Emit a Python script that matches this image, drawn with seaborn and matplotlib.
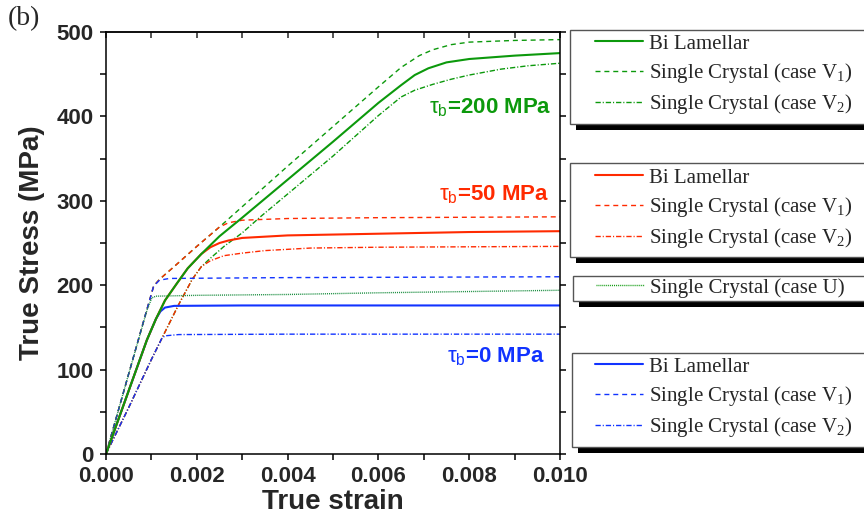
import matplotlib
matplotlib.use("Agg")
import matplotlib.pyplot as plt
import seaborn as sns
from matplotlib.lines import Line2D
from matplotlib.patches import Rectangle
from matplotlib.ticker import MultipleLocator, FormatStrFormatter

# ---- data (strain, stress in MPa) ----
# tau_b = 200 MPa (green)
g_bl_x = [0, 0.0005, 0.0009, 0.0011, 0.0013, 0.00156, 0.0018, 0.0021, 0.0025, 0.003, 0.004,
          0.005, 0.006, 0.0065, 0.0068, 0.0071, 0.0075, 0.008, 0.009, 0.010]
g_bl_y = [0, 75, 135, 160, 182, 202, 220, 237, 258, 280, 325,
          370, 416, 437, 449, 457, 464, 468, 472, 475]
g_v1_x = [0, 0.0005, 0.0009, 0.00105, 0.00118, 0.0015, 0.002, 0.0025, 0.003, 0.004, 0.005,
          0.006, 0.0065, 0.0069, 0.0072, 0.0076, 0.008, 0.009, 0.010]
g_v1_y = [0, 95, 171, 199, 207, 222, 246, 269, 293, 341, 388,
          435, 458, 472, 479, 485, 488, 490, 491]
g_v2_x = [0, 0.0005, 0.001, 0.00123, 0.0016, 0.0019, 0.0021, 0.0023, 0.0026, 0.003, 0.0034,
          0.005, 0.006, 0.0065, 0.0068, 0.0072, 0.0076, 0.008, 0.0087, 0.0093, 0.010]
g_v2_y = [0, 55, 112, 137, 177, 207, 222, 232, 246, 262, 281,
          353, 401, 423, 431, 438, 444, 449, 456, 460, 463]
g_u_x = [0, 0.0005, 0.0009, 0.00101, 0.0011, 0.002, 0.004, 0.006, 0.008, 0.010]
g_u_y = [0, 95, 170, 185, 187, 188, 189, 191, 192.5, 194]

# tau_b = 50 MPa (red)
r_bl_x = [0, 0.0005, 0.0009, 0.0011, 0.0013, 0.00156, 0.0018, 0.0021, 0.0023, 0.0025, 0.0027,
          0.003, 0.004, 0.006, 0.008, 0.010]
r_bl_y = [0, 75, 135, 160, 182, 202, 220, 237, 245, 250, 253,
          256, 259, 261, 263, 264]
r_v1_x = [0, 0.0005, 0.0009, 0.00105, 0.00118, 0.0015, 0.002, 0.0025, 0.0027, 0.003, 0.004,
          0.006, 0.010]
r_v1_y = [0, 95, 171, 199, 207, 222, 246, 269, 274, 277, 279,
          280, 281]
r_v2_x = [0, 0.0005, 0.001, 0.00123, 0.0016, 0.0019, 0.0021, 0.0023, 0.0026, 0.003, 0.0035,
          0.0045, 0.006, 0.010]
r_v2_y = [0, 55, 112, 137, 177, 207, 222, 229, 235, 238, 241,
          244, 245, 246]

# tau_b = 0 MPa (blue)
b_bl_x = [0, 0.0005, 0.0009, 0.0011, 0.0012, 0.0013, 0.0015, 0.003, 0.010]
b_bl_y = [0, 75, 135, 160, 169, 173.5, 175.5, 176, 176]
b_v1_x = [0, 0.0005, 0.0009, 0.00105, 0.00118, 0.0014, 0.004, 0.010]
b_v1_y = [0, 95, 171, 199, 206, 208, 209, 210]
b_v2_x = [0, 0.0005, 0.001, 0.00123, 0.0013, 0.0016, 0.004, 0.010]
b_v2_y = [0, 55, 112, 137, 140, 141.5, 142, 142]

GREEN = "#0c990c"
RED = "#ff2a00"
BLUE = "#1133ff"

# line styles (points)
SOLID = "-"
DASH = (0, (3.6, 2.8))
DASHDOT = (0, (3.8, 1.4, 0.8, 1.4))
DOT = (0, (0.7, 0.7))

sns.set_theme(style="ticks")
plt.rcParams["font.family"] = ["Liberation Sans", "DejaVu Sans"]
plt.rcParams["mathtext.fontset"] = "custom"
plt.rcParams["mathtext.rm"] = "Liberation Sans"
plt.rcParams["mathtext.it"] = "Liberation Sans:italic"
plt.rcParams["lines.scale_dashes"] = False

fig = plt.figure(figsize=(8.64, 5.18), dpi=100)
ax = fig.add_axes([106 / 864, 1 - 454 / 518, 454 / 864, 422 / 518])

curves = [
    (g_v1_x, g_v1_y, GREEN, DASH, 1.0),
    (g_v2_x, g_v2_y, GREEN, DASHDOT, 1.0),
    (r_v1_x, r_v1_y, RED, DASH, 1.0),
    (r_v2_x, r_v2_y, RED, DASHDOT, 1.0),
    (b_v1_x, b_v1_y, BLUE, DASH, 1.0),
    (b_v2_x, b_v2_y, BLUE, DASHDOT, 1.0),
    (g_u_x, g_u_y, "#138a3a", DOT, 1.0),
    (b_bl_x, b_bl_y, BLUE, SOLID, 1.5),
    (r_bl_x, r_bl_y, RED, SOLID, 1.5),
    (g_bl_x, g_bl_y, GREEN, SOLID, 1.5),
]
for xs, ys, c, ls, lw in curves:
    sns.lineplot(x=xs, y=ys, ax=ax, color=c, linestyle=ls, linewidth=lw,
                 sort=False, estimator=None)

ax.set_xlim(0, 0.010)
ax.set_ylim(0, 500)
ax.xaxis.set_major_locator(MultipleLocator(0.002))
ax.xaxis.set_minor_locator(MultipleLocator(0.001))
ax.xaxis.set_major_formatter(FormatStrFormatter("%.3f"))
ax.yaxis.set_major_locator(MultipleLocator(100))
ax.yaxis.set_minor_locator(MultipleLocator(50))
for s in ax.spines.values():
    s.set_linewidth(1.1)
    s.set_color("black")
ax.tick_params(axis="both", which="both", direction="out", length=4, width=1.1, color="black")
ax.tick_params(axis="y", which="both", right=True, pad=5)
ax.tick_params(axis="x", which="both", pad=5)
ax.tick_params(axis="both", labelsize=16)
for lab in ax.get_xticklabels() + ax.get_yticklabels():
    lab.set_fontweight("bold")

top = ax.secondary_xaxis("top")
top.xaxis.set_major_locator(MultipleLocator(0.001))
top.tick_params(direction="in", length=4, width=1.1, labeltop=False)
top.spines["top"].set_linewidth(1.1)

ax.set_xlabel("True strain", fontsize=20, fontweight="bold", labelpad=1)
ax.set_ylabel("True Stress (MPa)", fontsize=20, fontweight="bold", labelpad=8)

# curve annotations
ax.text(0.00982, 404, r"$\mathrm{\tau_b}$=200 MPa", color=GREEN, fontsize=16,
        fontweight="bold", ha="right", va="baseline")
ax.text(0.00976, 301, r"$\mathrm{\tau_b}$=50 MPa", color=RED, fontsize=16,
        fontweight="bold", ha="right", va="baseline")
ax.text(0.00967, 109, r"$\mathrm{\tau_b}$=0 MPa", color=BLUE, fontsize=16,
        fontweight="bold", ha="right", va="baseline")

fig.text(8 / 864, 1 - 6 / 518, "(b)", fontsize=20, family="Liberation Serif",
         ha="left", va="top")

# legends with shadowed frames
lab_bl = "Bi Lamellar"
lab_v1 = r"Single Crystal (case V$_\mathregular{1}$)"
lab_v2 = r"Single Crystal (case V$_\mathregular{2}$)"
lab_u = "Single Crystal (case U)"


def fx(px):
    return px / 864


def fy(py):
    return 1 - py / 518


def framed_legend(handles, labels, left, top_px, bottom_px, hx, hy):
    fig.add_artist(Rectangle((fx(left + 6), fy(bottom_px + 6)), fx(870 - left), fy(top_px) - fy(bottom_px),
                             transform=fig.transFigure, facecolor="black", edgecolor="none", zorder=2))
    fig.add_artist(Rectangle((fx(left), fy(bottom_px)), fx(880 - left), fy(top_px) - fy(bottom_px),
                             transform=fig.transFigure, facecolor="white", edgecolor="#555555",
                             linewidth=1.0, zorder=3))
    fig.legend(handles, labels, loc="upper left", bbox_to_anchor=(fx(hx), fy(hy)),
               bbox_transform=fig.transFigure, frameon=False, borderpad=0, borderaxespad=0,
               handlelength=2.3, handletextpad=0.3, labelspacing=0.35,
               prop={"family": "Liberation Serif", "size": 15})


def h(c, ls, lw):
    return Line2D([], [], color=c, linestyle=ls, linewidth=lw)


framed_legend([h(GREEN, SOLID, 1.5), h(GREEN, DASH, 1.0), h(GREEN, DASHDOT, 1.0)],
              [lab_bl, lab_v1, lab_v2], 570, 30, 124, 595, 34)
framed_legend([h(RED, SOLID, 1.5), h(RED, DASH, 1.0), h(RED, DASHDOT, 1.0)],
              [lab_bl, lab_v1, lab_v2], 570, 163, 257, 595, 168)
framed_legend([h(GREEN, DOT, 1.0)], [lab_u], 573, 276, 301, 596, 278)
framed_legend([h(BLUE, SOLID, 1.5), h(BLUE, DASH, 1.0), h(BLUE, DASHDOT, 1.0)],
              [lab_bl, lab_v1, lab_v2], 572, 353, 447, 595, 357)

fig.savefig("out.png", dpi=100)
